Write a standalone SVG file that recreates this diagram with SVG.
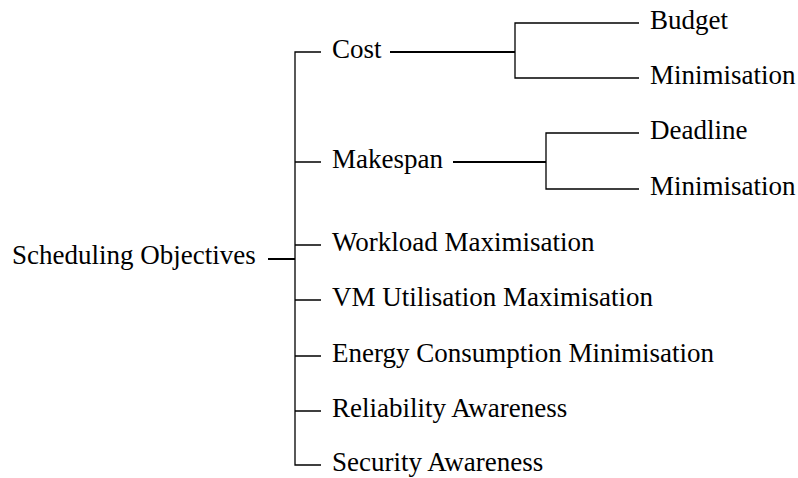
<svg xmlns="http://www.w3.org/2000/svg" width="798" height="478" viewBox="0 0 798 478">
<style>
text{font-family:"Liberation Serif","Times New Roman",serif;font-size:27px;fill:#000}
.ln{stroke:#000;stroke-width:1.3;fill:none}
.tk{stroke:#000;stroke-width:2;fill:none}
</style>
<rect width="798" height="478" fill="#fff"/>
<g id="connectors">
<path class="tk" d="M268 259H295"/>
<path class="ln" d="M321 52H295V465H321"/>
<path class="ln" d="M295 162H321M295 245H321M295 300H321M295 356H321M295 411H321"/>
<path class="tk" d="M390 52H515"/>
<path class="ln" d="M639 23H515V78H639"/>
<path class="tk" d="M453 162H546"/>
<path class="ln" d="M639 133H546V189H639"/>
</g>
<g id="root"><text x="12" y="264">Scheduling Objectives</text></g>
<g id="cost"><text x="332" y="57.5">Cost</text></g>
<g id="budget"><text x="650" y="28.5">Budget</text></g>
<g id="budget-min"><text x="650" y="83.5">Minimisation</text></g>
<g id="makespan"><text x="332" y="167.5">Makespan</text></g>
<g id="deadline"><text x="650" y="138.5">Deadline</text></g>
<g id="deadline-min"><text x="650" y="194.5">Minimisation</text></g>
<g id="workload"><text x="332" y="250.5">Workload Maximisation</text></g>
<g id="vm"><text x="332" y="305.5">VM Utilisation Maximisation</text></g>
<g id="energy"><text x="332" y="361.5">Energy Consumption Minimisation</text></g>
<g id="reliability"><text x="332" y="416.5">Reliability Awareness</text></g>
<g id="security"><text x="332" y="470.5">Security Awareness</text></g>
</svg>
